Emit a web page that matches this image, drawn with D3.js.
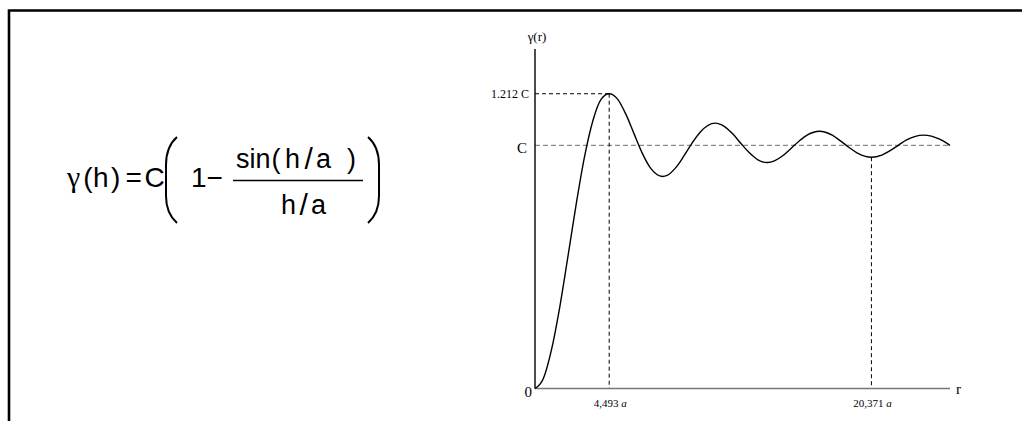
<!DOCTYPE html>
<html>
<head>
<meta charset="utf-8">
<script src="https://cdn.jsdelivr.net/npm/d3@7"></script>
<style>
  html, body { margin: 0; padding: 0; background: #fff; }
  svg { display: block; }
</style>
</head>
<body>
<svg id="chart" width="1022" height="421"></svg>
<script>
// Hole-effect variogram: lag r (in units of a) and gamma(r) as a fraction of the sill C
const rValues = [0, 0.5, 1, 1.5, 2, 2.5, 3, 3.5, 4, 4.493, 5, 5.5, 6, 6.5, 7, 7.725,
  8, 8.5, 9, 9.5, 10, 10.904, 11.5, 12, 12.5, 13, 13.5, 14.066, 14.5, 15, 15.5, 16,
  16.5, 17.221, 18, 18.5, 19, 19.5, 20.371, 21, 21.5, 22, 22.5, 23.52, 24, 24.5, 25.13];
const gammaValues = [0, 0.04, 0.16, 0.335, 0.545, 0.76, 0.953, 1.10, 1.189, 1.212, 1.19, 1.128, 1.047, 0.967, 0.906, 0.872,
  0.876, 0.906, 0.954, 1.008, 1.054, 1.091, 1.076, 1.045, 1.005, 0.968, 0.94, 0.929, 0.936, 0.957, 0.987, 1.018,
  1.043, 1.058, 1.042, 1.018, 0.992, 0.969, 0.951, 0.96, 0.978, 1.0, 1.022, 1.042, 1.038, 1.025, 1.0];

// Annotated points on the axes
const peakR = 4.493, peakGamma = 1.212;
const troughR = 20.371;
const yTickValues = [0, 1, 1.212];
const yTickLabels = ["0", "C", "1.212 C"];
const xTickLabels = ["4,493", "20,371"];

const svg = d3.select("#chart");

const x = d3.scaleLinear().domain([0, 25.13]).range([535, 950]);
const y = d3.scaleLinear().domain([0, 1]).range([388.5, 145.3]);

// Outer frame (top and left edges)
svg.append("path")
  .attr("d", "M9,421 V10.5 H1022")
  .attr("fill", "none")
  .attr("stroke", "#000")
  .attr("stroke-width", 2.6);

// Guide lines
const gTroughGamma = gammaValues[rValues.indexOf(troughR)];
svg.append("line")
  .attr("x1", x(0)).attr("x2", x(25.13))
  .attr("y1", y(1)).attr("y2", y(1))
  .attr("stroke", "#6e6e6e").attr("stroke-width", 1)
  .attr("stroke-dasharray", "5,3");
svg.append("line")
  .attr("x1", x(0)).attr("x2", x(peakR))
  .attr("y1", y(peakGamma)).attr("y2", y(peakGamma))
  .attr("stroke", "#000").attr("stroke-width", 1)
  .attr("stroke-dasharray", "4,3");
svg.append("line")
  .attr("x1", x(peakR)).attr("x2", x(peakR))
  .attr("y1", y(peakGamma)).attr("y2", y(0))
  .attr("stroke", "#000").attr("stroke-width", 1)
  .attr("stroke-dasharray", "4,3");
svg.append("line")
  .attr("x1", x(troughR)).attr("x2", x(troughR))
  .attr("y1", y(gTroughGamma)).attr("y2", y(0))
  .attr("stroke", "#000").attr("stroke-width", 1)
  .attr("stroke-dasharray", "4,3");

// Axes
svg.append("line")
  .attr("x1", x(0)).attr("x2", x(25.13))
  .attr("y1", y(0)).attr("y2", y(0))
  .attr("stroke", "#777").attr("stroke-width", 1.6);
svg.append("line")
  .attr("x1", x(0)).attr("x2", x(0))
  .attr("y1", 49).attr("y2", y(0))
  .attr("stroke", "#000").attr("stroke-width", 1.4);

// Variogram curve
const line = d3.line()
  .x((d, i) => x(rValues[i]))
  .y(d => y(d))
  .curve(d3.curveMonotoneX);
svg.append("path")
  .datum(gammaValues)
  .attr("d", line)
  .attr("fill", "none")
  .attr("stroke", "#000")
  .attr("stroke-width", 1.4);

// Axis labels (serif)
const serif = "'Liberation Serif', 'Times New Roman', serif";
const yLab = svg.append("g").attr("font-family", serif).attr("fill", "#000");
yLab.append("text").attr("x", 529).attr("y", y(yTickValues[2]) + 4)
  .attr("text-anchor", "end").attr("font-size", 12).text(yTickLabels[2]);
yLab.append("text").attr("x", 527).attr("y", y(yTickValues[1]) + 8)
  .attr("text-anchor", "end").attr("font-size", 15).text(yTickLabels[1]);
yLab.append("text").attr("x", 532).attr("y", y(yTickValues[0]) + 8)
  .attr("text-anchor", "end").attr("font-size", 15).text(yTickLabels[0]);
yLab.append("text").attr("x", 537).attr("y", 41)
  .attr("text-anchor", "middle").attr("font-size", 13).text("γ(r)");
yLab.append("text").attr("x", 956).attr("y", 393.5)
  .attr("font-size", 15).text("r");

[peakR, troughR].forEach((r, i) => {
  const t = yLab.append("text")
    .attr("x", x(r) + 1).attr("y", 407)
    .attr("text-anchor", "middle").attr("font-size", 11);
  t.append("tspan").text(xTickLabels[i] + " ");
  t.append("tspan").attr("font-style", "italic").text("a");
});

// Formula
const sans = "'Liberation Sans', Arial, sans-serif";
const f = svg.append("g").attr("font-family", sans).attr("fill", "#000");
const glyph = (txt, gx, gy, size) =>
  f.append("text").attr("x", gx).attr("y", gy).attr("font-size", size).text(txt);
f.append("text").attr("x", 67).attr("y", 186.5)
  .attr("font-family", serif).attr("font-size", 30).text("γ");
glyph("(", 83.3, 186.5, 28);
glyph("h", 93, 186.5, 28);
glyph(")", 111, 186.5, 28);
glyph("=", 125.6, 186.5, 28);
glyph("C", 144.6, 186.5, 28);
glyph("1", 191, 186.5, 28);
glyph("−", 206.6, 186.5, 28);
glyph("sin", 236, 168, 27);
glyph("(", 271.6, 168, 27);
glyph("h", 285, 168, 27);
glyph("/", 304.5, 169, 30);
glyph("a", 316, 168, 27);
glyph(")", 347, 168, 27);
glyph("h", 281, 214, 27);
glyph("/", 299.5, 215, 30);
glyph("a", 311, 214, 27);
f.append("line")
  .attr("x1", 233).attr("x2", 363).attr("y1", 180.5).attr("y2", 180.5)
  .attr("stroke", "#000").attr("stroke-width", 1.6);
// Large parentheses around the bracket term
f.append("path")
  .attr("d", "M177,137 C169,144 166,154 166,165 L166,196 C166,207 169,216 177,223")
  .attr("fill", "none").attr("stroke", "#000").attr("stroke-width", 2);
f.append("path")
  .attr("d", "M368,137 C376,144 379,154 379,165 L379,196 C379,207 376,216 368,223")
  .attr("fill", "none").attr("stroke", "#000").attr("stroke-width", 2);
</script>
</body>
</html>
